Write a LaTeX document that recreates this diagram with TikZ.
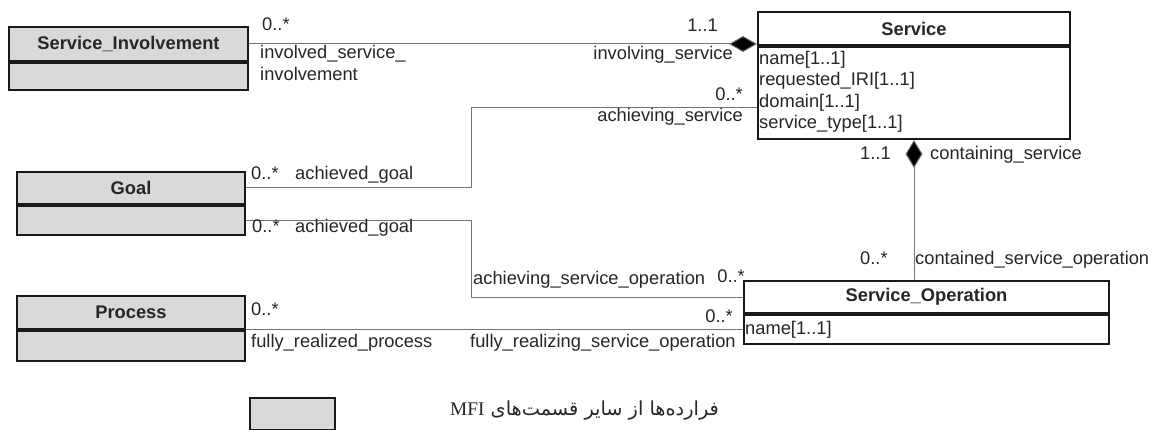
\documentclass[tikz,border=0pt]{standalone}
\usepackage{fontspec}
\setmainfont{Liberation Sans}
\newfontfamily\arabicfont[Script=Arabic]{DejaVu Sans}
\newfontfamily\timesfont{Liberation Serif}
\TeXXeTstate=1
\usetikzlibrary{arrows.meta}
\begin{document}
\begin{tikzpicture}[x=1pt,y=-1pt,
  every node/.style={inner sep=0pt, text=black!85},
  lbl/.style={font=\fontsize{18.3}{21.5}\selectfont, text height=13pt, text depth=4pt},
  hdr/.style={draw=black!90, line width=2pt, anchor=north west, fill=white,
    font=\fontsize{18.3}{21.5}\selectfont\bfseries},
  ext/.style={hdr, fill=black!15},
  attrs/.style={anchor=north west, align=left, font=\fontsize{18.3}{21.5}\selectfont},
  conn/.style={draw=black!55, line width=1pt},
  comp/.style={conn, -{Diamond[length=28pt,width=16pt,fill=black]}},
  compv/.style={conn, {Diamond[length=28pt,width=17pt,fill=black]}-}
]
\useasboundingbox (0,0) rectangle (1155,430);

% classes
\node[ext, minimum width=239pt, minimum height=34pt] (sih) at (8,26) {Service\_Involvement};
\node[ext, minimum width=239pt, minimum height=27pt] (sib) at (sih.south west) {};

\node[hdr, minimum width=312pt, minimum height=33pt] (svh) at (757,11) {Service};
\node[hdr, minimum width=312pt, minimum height=92pt] (svb) at (svh.south west) {};
\node[attrs] (sva) at ([xshift=2pt,yshift=-5pt]svb.north west)
  {name[1..1]\\requested\_IRI[1..1]\\domain[1..1]\\service\_type[1..1]};

\node[ext, minimum width=228pt, minimum height=32pt] (goh) at (16,171) {Goal};
\node[ext, minimum width=228pt, minimum height=29pt] (gob) at (goh.south west) {};

\node[ext, minimum width=228pt, minimum height=33pt] (prh) at (16,295) {Process};
\node[ext, minimum width=228pt, minimum height=30pt] (prb) at (prh.south west) {};

\node[hdr, minimum width=365pt, minimum height=32pt] (soh) at (743,280) {Service\_Operation};
\node[hdr, minimum width=365pt, minimum height=29pt] (sob) at (soh.south west) {};
\node[attrs, anchor=west] (soa) at ([xshift=2pt]sob.west) {name[1..1]};

% legend
\node[ext, minimum width=85pt, minimum height=32pt] (leg) at (249,397) {};
\node[font=\fontsize{19.3}{22}\selectfont, anchor=west] (legt) at (450,411)
  {\arabicfont\beginR فرارده‌ها از سایر قسمت‌های \beginL{\timesfont MFI}\endL\endR};

% connectors
\coordinate (jx) at (471,0);
\draw[comp] (sih.east) -- (sih.east -| svh.south west);
\draw[conn] (goh.east) -- (goh.east -| jx) |- ([yshift=-62pt]svh.south west);
\draw[conn] (gob.east) -- (gob.east -| jx) |- (soh.west);
\draw[conn] (sob.west -| prh.south east) -- (sob.west);
\draw[compv] (svb.south) -- (svb.south |- soh.north);

% role and multiplicity labels
\node[lbl, anchor=west] at (262,26) {0..*};
\node[lbl, anchor=west] at (260,54) {involved\_service\_};
\node[lbl, anchor=west] at (260,76) {involvement};
\node[lbl, anchor=east] at (718,27) {1..1};
\node[lbl, anchor=east] at (733,55) {involving\_service};
\node[lbl, anchor=east] at (743,96) {0..*};
\node[lbl, anchor=east] at (743,117) {achieving\_service};
\node[lbl, anchor=west] at (251,175) {0..*};
\node[lbl, anchor=west] at (295,175) {achieved\_goal};
\node[lbl, anchor=west] at (252,228) {0..*};
\node[lbl, anchor=west] at (295,228) {achieved\_goal};
\node[lbl, anchor=west] at (473,280) {achieving\_service\_operation};
\node[lbl, anchor=east] at (745,278) {0..*};
\node[lbl, anchor=west] at (251,311) {0..*};
\node[lbl, anchor=west] at (251,343) {fully\_realized\_process};
\node[lbl, anchor=east] at (733,318) {0..*};
\node[lbl, anchor=west] at (470,343) {fully\_realizing\_service\_operation};
\node[lbl, anchor=west] at (860,155) {1..1};
\node[lbl, anchor=west] at (930,155) {containing\_service};
\node[lbl, anchor=west] at (860,260) {0..*};
\node[lbl, anchor=west] at (915,260) {contained\_service\_operation};
\end{tikzpicture}
\end{document}
